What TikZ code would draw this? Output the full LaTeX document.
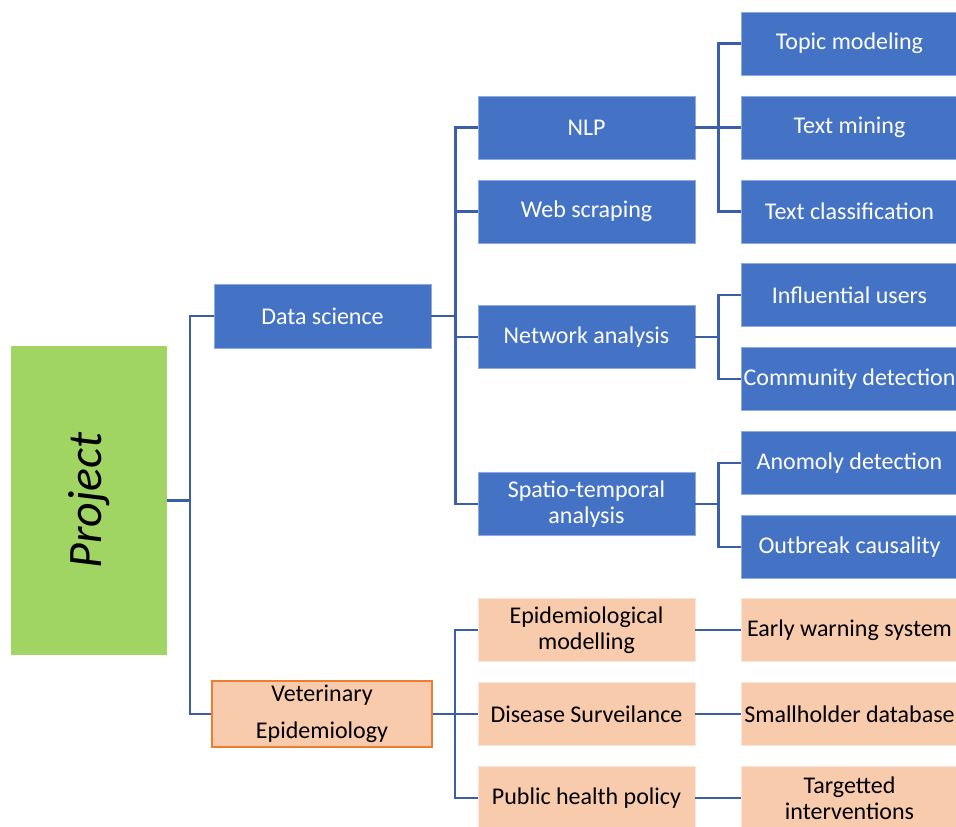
\documentclass[tikz,border=0pt]{standalone}
\usepackage{fontspec}
\setmainfont{Carlito}
\definecolor{boxblue}{RGB}{68,114,196}
\definecolor{edgeblue}{RGB}{143,170,220}
\definecolor{linkblue}{RGB}{58,95,168}
\definecolor{peach}{RGB}{248,203,173}
\definecolor{peachedge}{RGB}{252,228,212}
\definecolor{orangeline}{RGB}{237,125,49}
\definecolor{leaf}{RGB}{160,213,99}
\tikzset{
  base/.style={minimum width=217pt, minimum height=63pt, inner sep=2pt,
    align=center, font=\fontsize{24}{26}\selectfont},
  bluebox/.style={base, fill=boxblue, draw=edgeblue, line width=0.8pt, text=white},
  peachbox/.style={base, fill=peach, draw=peachedge, line width=0.8pt, text=black},
  conn/.style={draw=linkblue, line width=2.2pt}
}
\begin{document}
\begin{tikzpicture}[x=1pt,y=-1pt]
\useasboundingbox (0,0) rectangle (956,827);

% root
\node[fill=leaf, minimum width=156pt, minimum height=309pt, inner sep=0pt] (project) at (89,500.5) {};
\node[rotate=90, font=\fontsize{48}{56}\selectfont\itshape, text=black] (projlabel) at (project.center) {Project};

% first level
\node[bluebox, minimum width=217pt, minimum height=64pt] (ds) at (322.5,316) {Data science};
\node[peachbox, draw=orangeline, line width=2pt, minimum width=220pt, minimum height=66pt,
      font=\fontsize{24}{37}\selectfont] (vet) at (322,714) {Veterinary\\Epidemiology};

% second level: data science
\node[bluebox] (nlp) at (586.5,127.5) {NLP};
\node[bluebox] (web) at (586.5,211.5) {Web scraping};
\node[bluebox] (net) at (586.5,337) {Network analysis};
\node[bluebox] (spt) at (586.5,504) {Spatio-temporal\\analysis};

% second level: epidemiology
\node[peachbox] (epi) at (586.5,630) {Epidemiological\\modelling};
\node[peachbox] (surv) at (586.5,714) {Disease Surveilance};
\node[peachbox] (pol) at (586.5,798) {Public health policy};

% third level
\node[bluebox] (topic) at (849.5,43.5) {Topic modeling};
\node[bluebox] (mining) at (849.5,127.5) {Text mining};
\node[bluebox] (classif) at (849.5,211.5) {Text classification};
\node[bluebox] (infl) at (849.5,295) {Influential users};
\node[bluebox] (comm) at (849.5,379) {Community detection};
\node[bluebox] (anom) at (849.5,463) {Anomoly detection};
\node[bluebox] (outb) at (849.5,547) {Outbreak causality};
\node[peachbox] (early) at (849.5,630) {Early warning system};
\node[peachbox] (small) at (849.5,714) {Smallholder database};
\node[peachbox] (target) at (849.5,798) {Targetted\\interventions};

% connectors
\foreach \c in {ds,vet}
  \draw[conn] (project.east) -- ++(23,0) |- (\c.west);
\foreach \c in {nlp,web,net,spt}
  \draw[conn] (ds.east) -- ++(24,0) |- (\c.west);
\foreach \c in {epi,surv,pol}
  \draw[conn] (vet.east) -- ++(22,0) |- (\c.west);
\foreach \c in {topic,mining,classif}
  \draw[conn] (nlp.east) -- ++(23,0) |- (\c.west);
\foreach \c in {infl,comm}
  \draw[conn] (net.east) -- ++(23,0) |- (\c.west);
\foreach \c in {anom,outb}
  \draw[conn] (spt.east) -- ++(23,0) |- (\c.west);
\draw[conn] (epi.east) -- (early.west);
\draw[conn] (surv.east) -- (small.west);
\draw[conn] (pol.east) -- (target.west);
\end{tikzpicture}
\end{document}
